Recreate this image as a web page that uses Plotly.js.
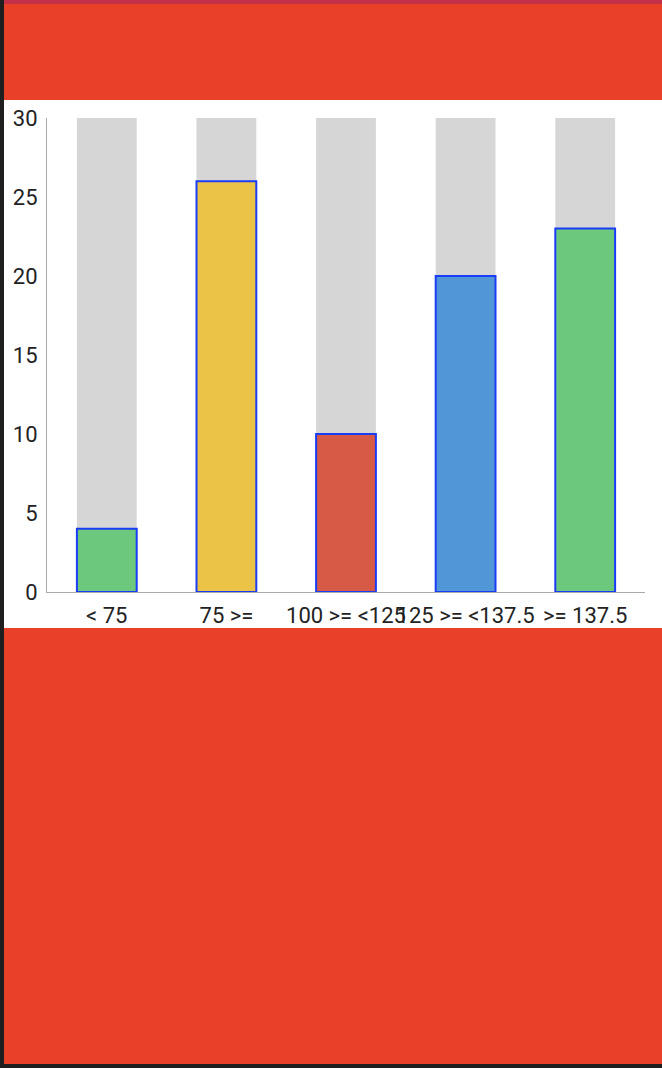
<!DOCTYPE html>
<html>
<head>
<meta charset="utf-8">
<script src="https://cdn.plot.ly/plotly-3.0.1.min.js"></script>
<style>
  html, body { margin: 0; padding: 0; background: #1e1e1e; width: 662px; height: 1068px; overflow: hidden; }
  #screen { position: absolute; left: 4px; top: 0; width: 658px; height: 1064px; background: #E94128; }
  #strip { position: absolute; left: 0; top: 0; width: 658px; height: 4px; background: #C2304A; }
  #card { position: absolute; left: 0; top: 100px; width: 658px; height: 528px; background: #ffffff; }
  #chart { width: 658px; height: 528px; }
</style>
</head>
<body>
<div id="screen">
  <div id="strip"></div>
  <div id="card"><div id="chart"></div></div>
</div>
<script>
const categories = ["< 75", "75 >=", "100 >= <125", "125 >= <137.5", ">= 137.5"];
const values = [4, 26, 10, 20, 23];
const maxValues = [30, 30, 30, 30, 30];
const yTicks = [0, 5, 10, 15, 20, 25, 30];

const barColors = ["#6BC87D", "#EBC447", "#D65A46", "#5197D7", "#6BC87D"];

const traces = [
  {
    type: "bar",
    x: categories,
    y: maxValues,
    marker: { color: "#D6D6D6", line: { width: 0 } },
    hoverinfo: "skip",
    width: 0.5
  },
  {
    type: "bar",
    x: categories,
    y: values,
    marker: { color: barColors, line: { color: "#1B3CF5", width: 2 } },
    width: 0.5
  }
];

const layout = {
  width: 658,
  height: 528,
  margin: { l: 43, r: 17, t: 18, b: 36 },
  paper_bgcolor: "#ffffff",
  plot_bgcolor: "#ffffff",
  showlegend: false,
  barmode: "overlay",
  font: { family: "Roboto, sans-serif", size: 22, color: "#222222" },
  xaxis: {
    type: "category",
    tickangle: 0,
    showgrid: false,
    zeroline: false,
    showline: true,
    linecolor: "#AAAAAA",
    linewidth: 1,
    ticks: "",
    ticklabelstandoff: 4,
    tickfont: { size: 22, color: "#222222" }
  },
  yaxis: {
    range: [0, 30],
    tickvals: yTicks,
    ticktext: yTicks.map(String),
    showgrid: false,
    zeroline: false,
    showline: true,
    linecolor: "#AAAAAA",
    linewidth: 1,
    ticks: "",
    ticklabelstandoff: 4,
    tickfont: { size: 22, color: "#222222" }
  }
};

Plotly.newPlot("chart", traces, layout, { displayModeBar: false, staticPlot: true });
</script>
</body>
</html>
